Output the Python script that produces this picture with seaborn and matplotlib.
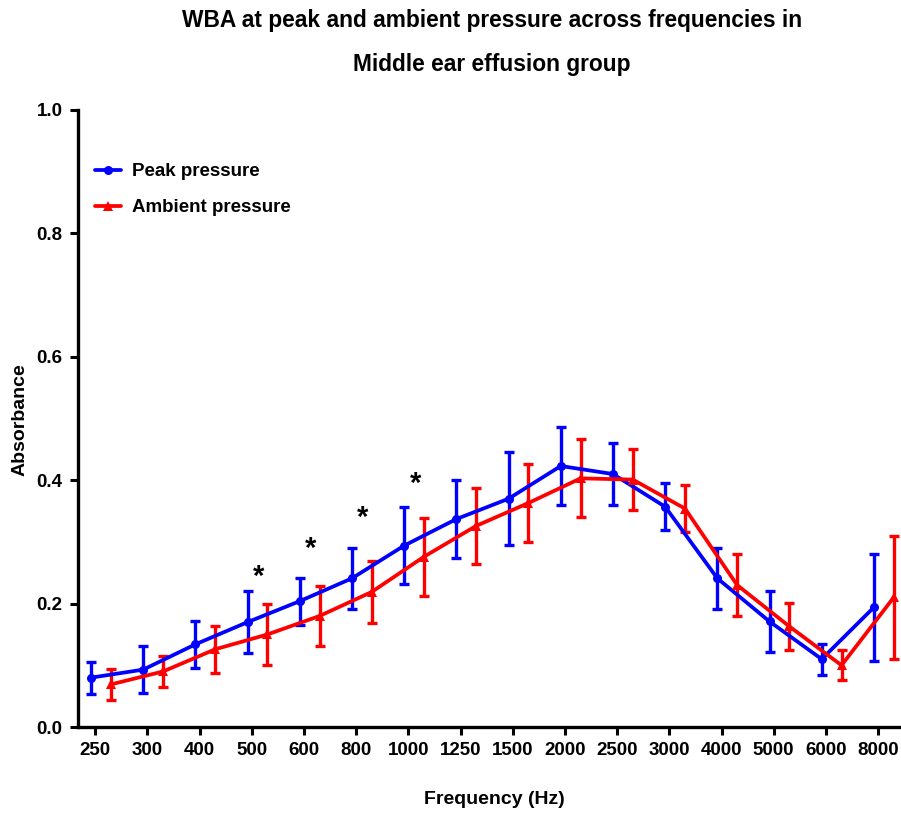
import numpy as np
import pandas as pd
import matplotlib
matplotlib.use("Agg")
import matplotlib.pyplot as plt
import seaborn as sns

freqs = ["250", "300", "400", "500", "600", "800", "1000", "1250", "1500",
         "2000", "2500", "3000", "4000", "5000", "6000", "8000"]
peak_mean = [0.080, 0.093, 0.134, 0.170, 0.204, 0.241, 0.294, 0.337, 0.370,
             0.423, 0.410, 0.357, 0.241, 0.171, 0.110, 0.194]
peak_sd = [0.026, 0.038, 0.038, 0.050, 0.038, 0.049, 0.062, 0.063, 0.075,
           0.063, 0.050, 0.038, 0.049, 0.050, 0.025, 0.087]
amb_mean = [0.069, 0.090, 0.126, 0.150, 0.180, 0.219, 0.276, 0.326, 0.363,
            0.403, 0.401, 0.354, 0.230, 0.163, 0.100, 0.210]
amb_sd = [0.025, 0.025, 0.038, 0.050, 0.049, 0.050, 0.063, 0.062, 0.063,
          0.063, 0.050, 0.038, 0.050, 0.038, 0.024, 0.100]
star_freqs = ["500", "600", "800", "1000"]
star_y = [0.244, 0.289, 0.339, 0.394]

sns.set_theme(style="ticks")
plt.rcParams["font.family"] = ["Liberation Sans", "DejaVu Sans"]
plt.rcParams["font.weight"] = "bold"
plt.rcParams["text.color"] = "black"
plt.rcParams["axes.labelcolor"] = "black"

idx = np.arange(len(freqs))
df = pd.DataFrame({
    "pos": np.concatenate([idx - 0.08, idx + 0.30]),
    "mean": peak_mean + amb_mean,
    "sd": peak_sd + amb_sd,
    "group": ["Peak pressure"] * len(freqs) + ["Ambient pressure"] * len(freqs),
})

fig = plt.figure(figsize=(9.01, 8.13), dpi=100)
ax = fig.add_axes([78 / 901, 86 / 813, 822 / 901, 617 / 813])

palette = {"Peak pressure": "#0000FF", "Ambient pressure": "#FF0000"}
markers = {"Peak pressure": "o", "Ambient pressure": "^"}

for grp, z in [("Ambient pressure", 2), ("Peak pressure", 3)]:
    sub = df[df["group"] == grp]
    ax.errorbar(sub["pos"], sub["mean"], yerr=sub["sd"], fmt="none",
                ecolor=palette[grp], elinewidth=2.4, capsize=3.6,
                capthick=2.4, zorder=z)

sns.lineplot(data=df, x="pos", y="mean", hue="group", style="group",
             hue_order=["Peak pressure", "Ambient pressure"],
             style_order=["Peak pressure", "Ambient pressure"],
             palette=palette, markers=markers, dashes=False,
             linewidth=2.7, markersize=6.5, markeredgewidth=0,
             estimator=None, sort=False, ax=ax, zorder=4)

for f, yv in zip(star_freqs, star_y):
    ax.text(freqs.index(f) + 0.13, yv, "*", ha="center", va="center",
            fontsize=21, fontweight="bold", color="black")

ax.set_xlim(-0.33, 15.42)
ax.set_ylim(0, 1.0)
ax.set_xticks(idx)
ax.set_xticklabels(freqs)
ax.set_yticks([0.0, 0.2, 0.4, 0.6, 0.8, 1.0])
ax.set_yticklabels(["0.0", "0.2", "0.4", "0.6", "0.8", "1.0"])
ax.tick_params(axis="both", direction="out", length=6, width=2.2,
               labelsize=13.5, color="black", labelcolor="black", pad=5)
for lab in ax.get_xticklabels() + ax.get_yticklabels():
    lab.set_fontweight("bold")

sns.despine(ax=ax)
for s in ["left", "bottom"]:
    ax.spines[s].set_linewidth(2.4)
    ax.spines[s].set_color("black")

ax.set_xlabel("Frequency (Hz)", fontsize=14, fontweight="bold")
ax.set_ylabel("Absorbance", fontsize=14, fontweight="bold")
ax.xaxis.label.set_verticalalignment("center")
ax.yaxis.label.set_verticalalignment("center")
ax.xaxis.set_label_coords(0.506, -0.118)
ax.yaxis.set_label_coords(-0.0706, 0.4976)

leg = ax.legend(loc="upper left", bbox_to_anchor=(-0.007, 0.95), frameon=False,
                fontsize=13.5, handlelength=1.4, handletextpad=0.6,
                labelspacing=1.0, borderaxespad=0.8)
for t in leg.get_texts():
    t.set_fontweight("bold")
    t.set_color("black")

fig.text(492 / 901, 1 - 20 / 813, "WBA at peak and ambient pressure across frequencies in",
         ha="center", va="center", fontsize=16.4, fontweight="bold", color="black")
fig.text(492 / 901, 1 - 64 / 813, "Middle ear effusion group",
         ha="center", va="center", fontsize=16.4, fontweight="bold", color="black")

fig.savefig("out.png", dpi=100)
